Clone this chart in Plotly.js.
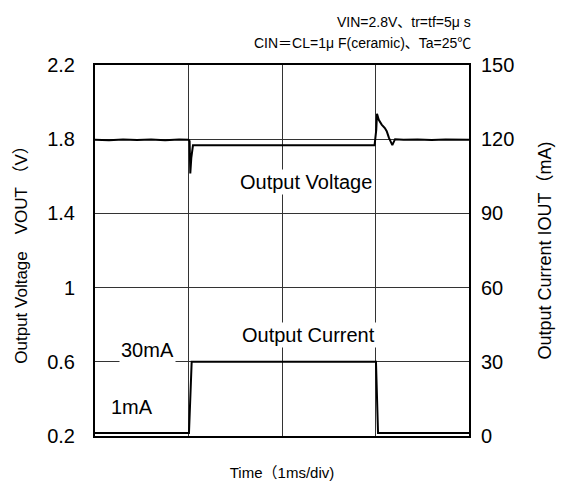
<!DOCTYPE html>
<html>
<head>
<meta charset="utf-8">
<script src="https://cdn.plot.ly/plotly-3.0.1.min.js"></script>
<style>html,body{margin:0;padding:0;background:#fff;}#chart{width:564px;height:488px;}</style>
</head>
<body>
<div id="chart"></div>
<script>
// Time in ms (1 ms/div, 4 divisions)
const timeV = [0, 0.15, 0.3, 0.45, 0.6, 0.75, 0.9, 1.0, 1.012, 1.019, 1.03, 1.048, 1.5, 2.0, 2.5, 2.99, 3.008, 3.016, 3.035, 3.066, 3.1, 3.12, 3.144, 3.18, 3.209, 3.3, 3.45, 3.6, 3.75, 3.9, 4.0];
const vout  = [1.797, 1.795, 1.799, 1.796, 1.798, 1.794, 1.798, 1.797, 1.79, 1.615, 1.70, 1.768, 1.768, 1.768, 1.768, 1.768, 1.85, 1.937, 1.905, 1.879, 1.86, 1.843, 1.807, 1.768, 1.80, 1.797, 1.799, 1.796, 1.798, 1.797, 1.797];
const timeI = [0, 1.005, 1.034, 3.005, 3.027, 4.0];
const iout  = [1.2, 1.2, 30, 30, 1.2, 1.2];
const vTicks = [0.2, 0.6, 1.0, 1.4, 1.8, 2.2];
const vTickText = ["0.2", "0.6", "1", "1.4", "1.8", "2.2"];
const iTicks = [0, 30, 60, 90, 120, 150];

const FONT = "Arial, 'Liberation Sans', 'Noto Sans CJK JP', sans-serif";

const traces = [
  {x: timeV, y: vout, type: 'scatter', mode: 'lines', line: {color: '#000', width: 2}, yaxis: 'y', hoverinfo: 'skip'},
  {x: timeI, y: iout, type: 'scatter', mode: 'lines', line: {color: '#000', width: 2}, yaxis: 'y2', hoverinfo: 'skip'}
];

const layout = {
  width: 564, height: 488,
  margin: {l: 95, r: 95, t: 65, b: 52, pad: 0},
  paper_bgcolor: '#fff', plot_bgcolor: '#fff',
  showlegend: false,
  font: {family: FONT, color: '#000'},
  xaxis: {
    range: [0, 4], dtick: 1, tick0: 0, showticklabels: false, ticks: '',
    showgrid: true, gridcolor: '#333', gridwidth: 1, zeroline: false,
    showline: true, linecolor: '#000', linewidth: 2, mirror: true,
    title: {text: 'Time（1ms/div)', font: {size: 15, family: FONT}, standoff: 30}
  },
  yaxis: {
    range: [0.2, 2.2], tickvals: vTicks, ticktext: vTickText, ticks: '',
    showgrid: true, gridcolor: '#333', gridwidth: 1, zeroline: false,
    showline: true, linecolor: '#000', linewidth: 2, mirror: true,
    tickfont: {size: 20, family: FONT}, ticklabelstandoff: 14,
    title: {text: 'Output Voltage　VOUT （V）', font: {size: 17, family: FONT}, standoff: 15}
  },
  yaxis2: {
    range: [0, 150], tickvals: iTicks, overlaying: 'y', side: 'right', ticks: '',
    showgrid: false, zeroline: false, showline: false,
    tickfont: {size: 20, family: FONT}, ticklabelstandoff: 11,
    title: {text: 'Output Current IOUT（mA)', font: {size: 18, family: FONT}, standoff: 25}
  },
  annotations: [
    {xref: 'paper', yref: 'paper', x: 1.011, y: 1.116, xanchor: 'right', yanchor: 'middle', showarrow: false,
     text: 'VIN=2.8V、tr=tf=5μ s', font: {size: 14, family: FONT}},
    {xref: 'paper', yref: 'paper', x: 1.011, y: 1.059, xanchor: 'right', yanchor: 'middle', showarrow: false,
     text: 'CIN＝CL=1μ F(ceramic)、Ta=25℃', font: {size: 14, family: FONT}},
    {xref: 'x', yref: 'y', x: 2.26, y: 1.57, showarrow: false, text: 'Output Voltage',
     font: {size: 20, family: FONT}, bgcolor: '#fff'},
    {xref: 'x', yref: 'y', x: 2.28, y: 0.745, showarrow: false, text: 'Output Current',
     font: {size: 20, family: FONT}, bgcolor: '#fff'},
    {xref: 'x', yref: 'y', x: 0.56, y: 0.664, showarrow: false, text: '30mA',
     font: {size: 20, family: FONT}, bgcolor: '#fff'},
    {xref: 'x', yref: 'y', x: 0.40, y: 0.359, showarrow: false, text: '1mA',
     font: {size: 20, family: FONT}, bgcolor: '#fff'}
  ]
};

Plotly.newPlot('chart', traces, layout, {staticPlot: true, displayModeBar: false});
</script>
</body>
</html>
